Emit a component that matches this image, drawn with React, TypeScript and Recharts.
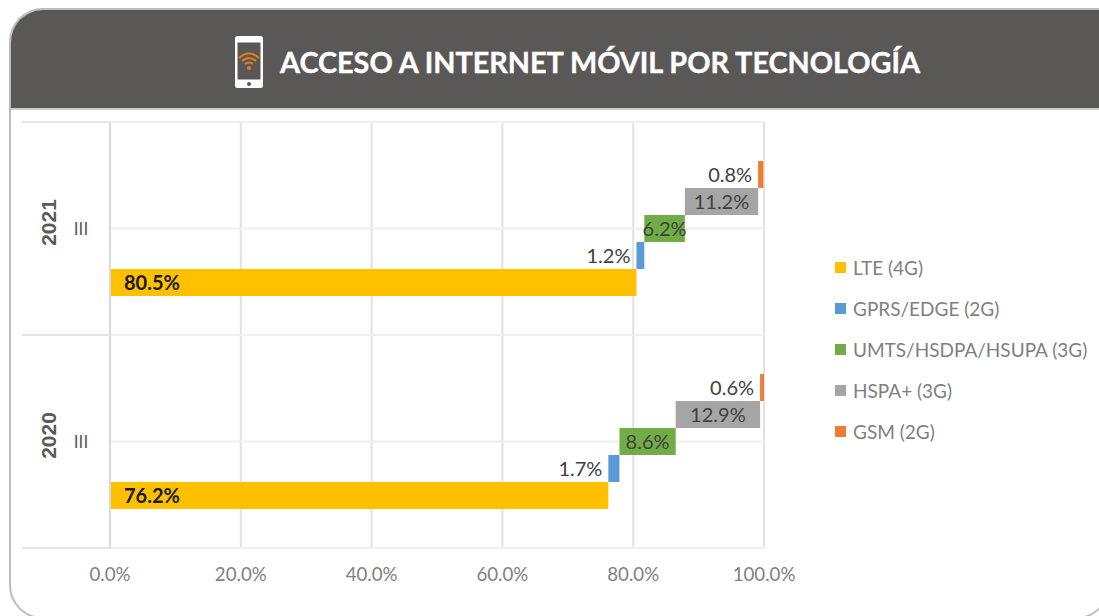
import { BarChart, Bar, XAxis, YAxis, CartesianGrid, Legend, LabelList } from 'recharts'

// Acceso a internet móvil por tecnología: floating bars, one row per series

const periods = ['2021', '2020']
const quarters = ['III', 'III']
const lte = [80.5, 76.2]
const gprs = [1.2, 1.7]
const umts = [6.2, 8.6]
const hspa = [11.2, 12.9]
const gsm = [0.8, 0.6]
const xTicks = [0, 20, 40, 60, 80, 100]

const seriesNames = ['LTE (4G)', 'GPRS/EDGE (2G)', 'UMTS/HSDPA/HSUPA (3G)', 'HSPA+ (3G)', 'GSM (2G)']
const seriesKeys = ['lte', 'gprs', 'umts', 'hspa', 'gsm']
const seriesColors = ['#FFC000', '#5B9BD5', '#70AD47', '#A5A5A5', '#ED7D31']

const FONT = 'Lato, sans-serif'

const rows = periods.map((period, i) => ({
  period,
  quarter: quarters[i],
  lte: lte[i],
  gprs: gprs[i],
  umts: umts[i],
  hspa: hspa[i],
  gsm: gsm[i],
}))

// each bar floats from the running total of the series before it
function span(index: number) {
  return (row: any) => {
    let start = 0
    for (let k = 0; k < index; k++) start += row[seriesKeys[k]]
    return [start, start + row[seriesKeys[index]]]
  }
}

const fmtPct = (v: number) => `${v.toFixed(1)}%`

// two-level category tick, with the level separators
function CategoryTick({ y, payload, index }: any) {
  return (
    <g>
      <line x1={22} x2={110} y1={y - 106.5} y2={y - 106.5} stroke="#E4E4E4" strokeWidth={2} />
      {index === periods.length - 1 && (
        <line x1={22} x2={110} y1={y + 106.5} y2={y + 106.5} stroke="#E4E4E4" strokeWidth={2} />
      )}
      <text x={81} y={y + 6} textAnchor="middle" fontSize={17} fontFamily={FONT} fill="#595959">
        {quarters[index]}
      </text>
      <text
        transform={`translate(56 ${y - 6}) rotate(-90)`}
        textAnchor="middle"
        fontSize={21}
        fontWeight={700}
        fontFamily="'Liberation Sans', sans-serif"
        fill="#595959"
      >
        {payload.value}
      </text>
    </g>
  )
}

function LegendList() {
  return (
    <div style={{ fontFamily: FONT, fontSize: 19, color: '#7F7F7F' }}>
      {seriesNames.map((name, i) => (
        <div key={name} style={{ height: 41, display: 'flex', alignItems: 'center', whiteSpace: 'nowrap' }}>
          <span style={{ width: 11, height: 11, background: seriesColors[i], marginRight: 7 }} />
          {name}
        </div>
      ))}
    </div>
  )
}

function PhoneIcon() {
  return (
    <svg width={30} height={54} viewBox="0 0 30 54" style={{ position: 'absolute', left: 234, top: 35 }}>
      <rect x={1} y={1} width={28} height={52} rx={2.5} fill="#FFFFFF" />
      <rect x={3.5} y={7.5} width={23} height={37} fill="#5A5856" />
      <circle cx={15} cy={49} r={2} fill="#5A5856" />
      <g fill="none" stroke="#E87D1E" strokeWidth={2}>
        <path d="M5 23 Q15 14 25 23" />
        <path d="M8 26 Q15 20 22 26" />
        <path d="M11 29 Q15 26 19 29" />
      </g>
      <circle cx={15} cy={33} r={2} fill="#E87D1E" />
    </svg>
  )
}

export default function App() {
  // drawn top to bottom inside each category, so GSM comes first
  const drawOrder = [4, 3, 2, 1, 0]

  return (
    <div style={{ position: 'absolute', left: 0, top: 0, width: 1099, height: 616, overflow: 'hidden', background: '#fff' }}>
      {/* Frame */}
      <div
        style={{
          position: 'absolute',
          left: 9,
          top: 8,
          width: 1101,
          height: 611,
          boxSizing: 'border-box',
          border: '2px solid #BDBDBD',
          borderRadius: '34px 0 34px 34px',
          overflow: 'hidden',
        }}
      >
        <div style={{ height: 98, background: '#5A5856', borderBottom: '2px solid #CFCFCF' }} />
      </div>

      <PhoneIcon />
      <div
        style={{
          position: 'absolute',
          left: 280,
          top: 44,
          fontFamily: FONT,
          fontWeight: 700,
          fontSize: 28.8,
          lineHeight: '36px',
          color: '#FFFFFF',
          WebkitTextStroke: '0.4px #FFFFFF',
          whiteSpace: 'nowrap',
        }}
      >
        ACCESO A INTERNET MÓVIL POR TECNOLOGÍA
      </div>

      <div style={{ position: 'absolute', left: 0, top: 0 }}>
        <BarChart
          width={1099}
          height={616}
          data={rows}
          layout="vertical"
          barSize={27}
          barGap={0}
          margin={{ top: 122, right: 71, bottom: 0, left: 22 }}
        >
          <CartesianGrid stroke="#E2E2E2" strokeWidth={2} horizontal={false} />
          <CartesianGrid
            stroke="#F0F0F0"
            strokeWidth={2}
            vertical={false}
            horizontalPoints={[122, 228.5, 335, 441.5, 548]}
          />
          <XAxis
            type="number"
            domain={[0, 100]}
            ticks={xTicks}
            tickFormatter={fmtPct}
            height={68}
            axisLine={false}
            tickLine={false}
            tickMargin={14}
            tick={{ fill: '#7F7F7F', fontSize: 18.7, fontFamily: FONT }}
          />
          <YAxis
            type="category"
            dataKey="period"
            width={88}
            axisLine={{ stroke: '#D9D9D9', strokeWidth: 2 }}
            tickLine={false}
            tick={<CategoryTick />}
            interval={0}
          />
          <Legend
            layout="vertical"
            align="right"
            verticalAlign="middle"
            content={<LegendList />}
            wrapperStyle={{ left: 835, right: 'auto', top: 247, width: 264 }}
          />
          {drawOrder.map((s) => (
            <Bar
              key={seriesKeys[s]}
              dataKey={span(s)}
              name={seriesNames[s]}
              fill={seriesColors[s]}
              isAnimationActive={false}
            >
              <LabelList
                dataKey={seriesKeys[s]}
                formatter={fmtPct}
                position={s === 0 ? 'insideLeft' : s === 1 || s === 4 ? 'left' : 'center'}
                offset={s === 0 ? 14 : 6}
                fontFamily={FONT}
                fontSize={20}
                fontWeight={s === 0 ? 700 : 400}
                fill={s === 0 ? '#1A1A1A' : '#404040'}
              />
            </Bar>
          ))}
        </BarChart>
      </div>
    </div>
  )
}
